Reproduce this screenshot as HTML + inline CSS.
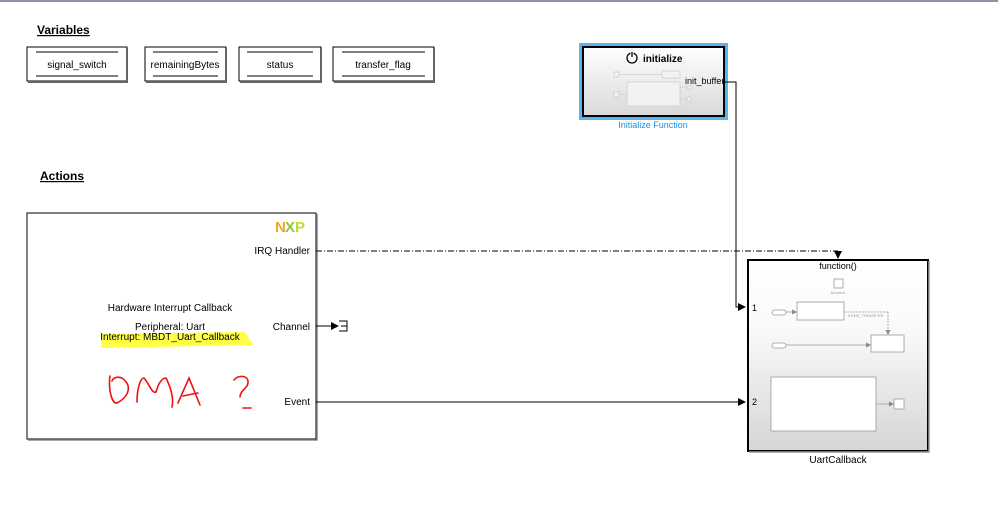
<!DOCTYPE html>
<html><head><meta charset="utf-8"><style>
html,body{margin:0;padding:0;background:#fff;}
svg{display:block;font-family:"Liberation Sans",Arial,sans-serif;}
</style></head><body>
<svg width="998" height="520" viewBox="0 0 998 520" xmlns="http://www.w3.org/2000/svg">
<defs>
<linearGradient id="g1" x1="0" y1="0" x2="0" y2="1"><stop offset="0" stop-color="#fff"/><stop offset="1" stop-color="#d9d9d9"/></linearGradient>
<linearGradient id="g2" x1="0" y1="0" x2="0" y2="1"><stop offset="0" stop-color="#fff"/><stop offset="0.35" stop-color="#fafafa"/><stop offset="1" stop-color="#d6d6d6"/></linearGradient>
<marker id="ar" markerWidth="8" markerHeight="8" refX="7" refY="4" orient="auto" markerUnits="userSpaceOnUse"><path d="M0,0 L8,4 L0,8z" fill="#000"/></marker>
<marker id="ar2" markerWidth="5" markerHeight="5" refX="5" refY="2.5" orient="auto" markerUnits="userSpaceOnUse"><path d="M0,0 L5,2.5 L0,5z" fill="#888"/></marker>
</defs>
<rect x="0" y="0" width="998" height="2" fill="#8a93a8"/>
<text x="37" y="34" font-size="12" font-weight="bold" text-decoration="underline">Variables</text>
<g font-size="10" text-anchor="middle" fill="#000">
<rect x="27" y="47" width="100" height="34" fill="#fff" stroke="#000"/><path d="M127,48v34h-99" stroke="#666" stroke-width="2" fill="none"/>
<line x1="36" y1="52" x2="118" y2="52" stroke="#000"/><line x1="36" y1="76" x2="118" y2="76" stroke="#000"/><text x="77" y="68">signal_switch</text>
<rect x="145" y="47" width="81" height="34" fill="#fff" stroke="#000"/><path d="M226,48v34h-80" stroke="#666" stroke-width="2" fill="none"/>
<line x1="153" y1="52" x2="218" y2="52" stroke="#000"/><line x1="153" y1="76" x2="218" y2="76" stroke="#000"/><text x="185" y="68">remainingBytes</text>
<rect x="239" y="47" width="82" height="34" fill="#fff" stroke="#000"/><path d="M321,48v34h-81" stroke="#666" stroke-width="2" fill="none"/>
<line x1="247" y1="52" x2="313" y2="52" stroke="#000"/><line x1="247" y1="76" x2="313" y2="76" stroke="#000"/><text x="280" y="68">status</text>
<rect x="333" y="47" width="101" height="34" fill="#fff" stroke="#000"/><path d="M434,48v34h-100" stroke="#666" stroke-width="2" fill="none"/>
<line x1="342" y1="52" x2="425" y2="52" stroke="#000"/><line x1="342" y1="76" x2="425" y2="76" stroke="#000"/><text x="383" y="68">transfer_flag</text>
</g>
<text x="40" y="180" font-size="12" font-weight="bold" text-decoration="underline">Actions</text>

<!-- initialize -->
<rect x="580.5" y="44.5" width="146" height="74" fill="none" stroke="#5bb4ee" stroke-width="3"/>
<rect x="583" y="47" width="141" height="69" fill="url(#g1)" stroke="#000" stroke-width="2"/>
<circle cx="632" cy="58" r="5" fill="none" stroke="#000" stroke-width="1.3"/><line x1="632" y1="51" x2="632" y2="57" stroke="#fff" stroke-width="3"/><line x1="632" y1="52" x2="632" y2="57" stroke="#000" stroke-width="1.3"/>
<text x="643" y="62" font-size="10" font-weight="bold">initialize</text>
<g stroke="#ccc" fill="#f2f2f2" stroke-width="0.8">
<rect x="614" y="72" width="5" height="5"/><line x1="619" y1="74.5" x2="662" y2="74.5"/><rect x="662" y="71" width="18" height="7"/>
<rect x="614" y="92" width="5" height="5"/><line x1="619" y1="94.5" x2="627" y2="94.5"/><rect x="627" y="82" width="53" height="24"/>
<line x1="680" y1="87" x2="687" y2="87"/><rect x="687" y="86" width="5" height="3"/>
<line x1="680" y1="99" x2="687" y2="99"/><rect x="687" y="97" width="4" height="4"/>
</g>
<text x="685" y="84" font-size="9">init_buffer</text>
<text x="653" y="128" font-size="9" fill="#1a8fe0" text-anchor="middle">Initialize Function</text>
<polyline points="724,82 736,82 736,307 745,307" fill="none" stroke="#000" marker-end="url(#ar)"/>

<!-- hardware block -->
<rect x="27" y="213" width="289" height="226" fill="#fff" stroke="#000"/>
<path d="M317,214v226h-289" stroke="#888" stroke-width="1.5" fill="none"/>
<text x="275" y="232" font-size="15" font-weight="bold" fill="#f3a51c">N</text>
<text x="285" y="232" font-size="15" font-weight="bold" fill="#8dc63f">X</text>
<text x="295" y="232" font-size="15" font-weight="bold" fill="#c8d82b">P</text>
<g font-size="10" fill="#000">
<text x="310" y="254" text-anchor="end">IRQ Handler</text>
<text x="310" y="330" text-anchor="end">Channel</text>
<text x="310" y="405" text-anchor="end">Event</text>
<text x="170" y="311" text-anchor="middle">Hardware Interrupt Callback</text>
<text x="170" y="330" text-anchor="middle">Peripheral: Uart</text>
</g>
<path d="M101,334 L245,332 L253,345 L101,348z" fill="#ffff33" opacity="0.9"/>
<text x="170" y="340" font-size="10" text-anchor="middle">Interrupt: MBDT_Uart_Callback</text>
<g stroke="#e11" stroke-width="1.6" fill="none" stroke-linecap="round">
<path d="M110,376 C108,390 112,404 117,403 C130,396 132,385 122,378 C117,376 113,378 112,381"/>
<path d="M137,402 C137,390 140,378 144,378 C150,385 152,394 156,392 C158,385 161,378 166,378 C171,388 174,398 172,407"/>
<path d="M178,403 L189,378 L200,405 M183,396 L198,393"/>
<path d="M234,380 C238,375 247,375 248,381 C249,388 240,390 240,397 M243,408 L251,408"/>
</g>
<line x1="316" y1="251" x2="838" y2="251" stroke="#000" stroke-dasharray="6,2,1,2"/>
<line x1="838" y1="251" x2="838" y2="258" stroke="#000" marker-end="url(#ar)"/>
<line x1="316" y1="326" x2="338" y2="326" stroke="#000" marker-end="url(#ar)"/>
<path d="M339,321h8v10h-8 M341,326h6" stroke="#000" fill="none"/>
<line x1="316" y1="402" x2="745" y2="402" stroke="#000" marker-end="url(#ar)"/>

<!-- UartCallback -->
<rect x="748" y="260" width="180" height="191" fill="url(#g2)" stroke="#000" stroke-width="2"/>
<path d="M929,261v191h-180" stroke="#999" stroke-width="1.5" fill="none"/>
<text x="838" y="269" font-size="9" text-anchor="middle">function()</text>
<text x="752" y="311" font-size="9">1</text>
<text x="752" y="405" font-size="9">2</text>
<g stroke="#999" fill="#fff" stroke-width="0.8">
<rect x="834" y="279" width="9" height="9"/>
<rect x="772" y="310" width="14" height="5" rx="2.5"/><line x1="786" y1="312" x2="797" y2="312" marker-end="url(#ar2)"/>
<rect x="797" y="302" width="47" height="18"/>
<line x1="844" y1="312" x2="888" y2="312" stroke-dasharray="2,1"/><line x1="888" y1="312" x2="888" y2="335" stroke-dasharray="2,1" marker-end="url(#ar2)"/>
<rect x="871" y="335" width="33" height="17"/>
<rect x="772" y="343" width="14" height="5" rx="2.5"/><line x1="786" y1="345" x2="871" y2="345" marker-end="url(#ar2)"/>
<rect x="771" y="377" width="105" height="54"/>
<line x1="876" y1="404" x2="894" y2="404" marker-end="url(#ar2)"/>
<rect x="894" y="399" width="10" height="10"/>
</g>
<text x="838" y="294" font-size="4" fill="#999" text-anchor="middle">function</text>
<text x="848" y="317" font-size="4" fill="#999">if END_TRANSFER</text>
<text x="838" y="463" font-size="10" text-anchor="middle">UartCallback</text>
</svg>
</body></html>
